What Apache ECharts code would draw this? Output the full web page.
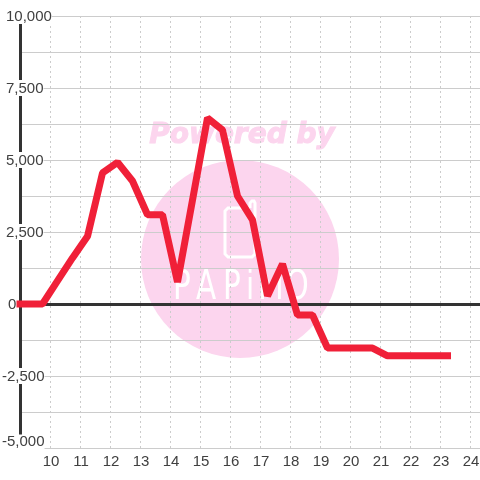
<!DOCTYPE html>
<html><head><meta charset="utf-8">
<style>html,body{margin:0;padding:0;background:#fff}#c{width:480px;height:480px}</style>
<script src="https://cdn.jsdelivr.net/npm/echarts@6/dist/echarts.min.js"></script>
</head><body><div id="c"></div>
<script>
const hours = [9,9.75,10.25,10.75,11.25,11.75,12.25,12.75,13.25,13.75,14.25,14.75,15.25,15.75,16.25,16.75,17.25,17.75,18.25,18.75,19.25,19.75,20.25,20.75,21.25,21.75,22.25,22.75,23.25];
const values = [0,0,800,1600,2350,4550,4920,4270,3100,3100,760,3610,6460,6040,3750,2920,280,1390,-380,-380,-1530,-1530,-1530,-1530,-1800,-1800,-1800,-1800,-1800];
const yTickLabels = {'10000':'10,000','7500':'7,500','5000':'5,000','2500':'2,500','0':'0','-2500':'-2,500','-5000':'-5,000'};
const wmLetters = ['P','A','P','i','M','O'];
const wmX = [182,206,232,250,271,297];

const chart = echarts.init(document.getElementById('c'),null,{renderer:'canvas'});
const txt = {fontFamily:'"Liberation Sans",Arial,sans-serif',fontSize:15,color:'#404040'};
chart.setOption({
  animation:false,
  backgroundColor:'#fff',
  grid:{left:20,top:16,width:460,height:432,containLabel:false,outerBoundsMode:'none'},
  graphic:{z:-1,elements:[
    {type:'circle',z:-1,shape:{cx:240,cy:259,r:99},style:{fill:'#fcd5ee'}},
    {type:'text',z:-1,x:242,y:136,style:{text:'Powered by',fill:'#fcd5ee',stroke:'#fcd5ee',lineWidth:1,font:'italic bold 28px "DejaVu Sans"',textAlign:'center',textVerticalAlign:'middle'}},
    {type:'polyline',z:-1,shape:{points:[[250,208],[228,208],[225,211],[225,254],[228,257],[252,257],[255,254],[255,203],[254,201],[252,201],[250,203],[250,208]]},style:{fill:'none',stroke:'#fff',lineWidth:3}},
    ...wmLetters.map((s,i)=>({type:'text',z:-1,x:wmX[i],y:288,scaleX:0.72,style:{text:s,fill:'#fff',font:'41px "DejaVu Sans"',textAlign:'center',textVerticalAlign:'middle'}}))
  ]},
  xAxis:[{
    type:'value',min:9,max:9+460/30,interval:1,position:'bottom',
    axisLine:{show:false,onZero:false},axisTick:{show:false},
    axisLabel:{...txt,margin:6,padding:[0,0,0,2],showMinLabel:false,showMaxLabel:false,hideOverlap:false,formatter:v=>v>9&&v<=24?String(v):''},
    splitLine:{show:true,lineStyle:{color:'#ccc',type:[2,3],width:1}}
  },{
    type:'value',min:9,max:9+460/30,interval:1,position:'top',
    axisLine:{show:true,onZero:true,lineStyle:{color:'#333',width:3}},axisTick:{show:false},
    axisLabel:{show:false},splitLine:{show:false}
  }],
  yAxis:{
    type:'value',min:-5000,max:10000,interval:1250,position:'left',
    axisLine:{show:true,onZero:false,lineStyle:{color:'#333',width:3}},axisTick:{show:false},
    splitLine:{show:true,lineStyle:{color:'#ccc',width:1}},
    axisLabel:{margin:18,align:'left',showMinLabel:true,showMaxLabel:true,hideOverlap:false,
      formatter:v=>{const s=yTickLabels[String(v)];if(!s)return '';if(v===-5000)return '{b|'+s+'}';return s==='0'?'{z|0}':(v<0?'{n|'+s+'}':'{p|'+s+'}');},
      rich:{
        p:{...txt,padding:[1,0,0,4],backgroundColor:'#fff',height:15},
        n:{...txt,padding:[1,0,0,0],backgroundColor:'#fff',height:15},
        b:{...txt,padding:[0,0,12,0],backgroundColor:'#fff',height:15},
        z:{...txt,padding:[1,0,0,6],height:15}
      }}
  },
  series:[{type:'line',xAxisIndex:0,yAxisIndex:0,data:hours.map((h,i)=>[h,values[i]]),showSymbol:false,clip:false,
    lineStyle:{color:'#f02038',width:7,cap:'square',join:'bevel'},itemStyle:{color:'#f02038'}}]
});
</script></body></html>
